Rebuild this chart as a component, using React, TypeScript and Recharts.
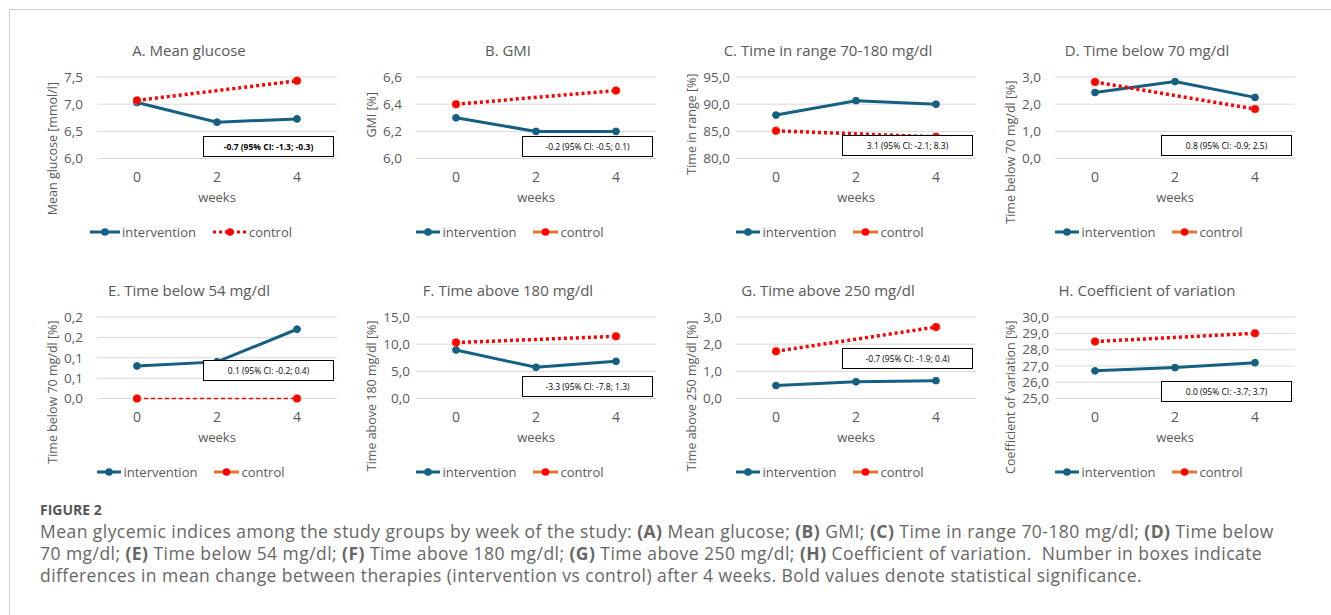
import { LineChart, Line, XAxis, YAxis, CartesianGrid } from 'recharts'

// weeks of the study
const weeks = ['0', '2', '4']

// A. Mean glucose
const glucoseIntervention = [7.03, 6.67, 6.73]
const glucoseControl = [7.07, null, 7.43]
// B. GMI
const gmiIntervention = [6.3, 6.2, 6.2]
const gmiControl = [6.4, null, 6.5]
// C. Time in range
const tirIntervention = [88.0, 90.65, 90.0]
const tirControl = [85.1, null, 84.0]
// D. Time below 70
const tbr70Intervention = [2.43, 2.83, 2.25]
const tbr70Control = [2.82, null, 1.82]
// E. Time below 54
const tbr54Intervention = [0.08, 0.09, 0.17]
const tbr54Control = [0, null, 0]
// F. Time above 180
const tar180Intervention = [8.95, 5.75, 6.85]
const tar180Control = [10.3, null, 11.45]
// G. Time above 250
const tar250Intervention = [0.48, 0.62, 0.66]
const tar250Control = [1.74, null, 2.63]
// H. Coefficient of variation
const cvIntervention = [26.7, 26.9, 27.2]
const cvControl = [28.5, null, 29.0]

const titles = [
  'A. Mean glucose',
  'B. GMI',
  'C. Time in range 70-180 mg/dl',
  'D. Time below 70 mg/dl',
  'E. Time below 54 mg/dl',
  'F. Time above 180 mg/dl',
  'G. Time above 250 mg/dl',
  'H. Coefficient of variation',
]
const yLabels = [
  'Mean glucose [mmol/l]',
  'GMI [%]',
  'Time in range [%]',
  'Time below 70 mg/dl [%]',
  'Time below 70 mg/dl [%]',
  'Time above 180 mg/dl [%]',
  'Time above 250 mg/dl [%]',
  'Coefficient of variation [%]',
]
const yTicks = [
  [6, 6.5, 7, 7.5],
  [6, 6.2, 6.4, 6.6],
  [80, 85, 90, 95],
  [0, 1, 2, 3],
  [0, 0.05, 0.1, 0.15, 0.2],
  [0, 5, 10, 15],
  [0, 1, 2, 3],
  [25, 26, 27, 28, 29, 30],
]
const differences = [
  '-0.7 (95% CI: -1.3; -0.3)',
  '-0.2 (95% CI: -0.5; 0.1)',
  '3.1 (95% CI: -2.1; 8.3)',
  '0.8 (95% CI: -0.9; 2.5)',
  '0.1 (95% CI: -0.2; 0.4)',
  '-3.3 (95% CI: -7.8; 1.3)',
  '-0.7 (95% CI: -1.9; 0.4)',
  '0.0 (95% CI: -3.7; 3.7)',
]
const significant = [true, false, false, false, false, false, false, false]

const series = [
  [glucoseIntervention, glucoseControl],
  [gmiIntervention, gmiControl],
  [tirIntervention, tirControl],
  [tbr70Intervention, tbr70Control],
  [tbr54Intervention, tbr54Control],
  [tar180Intervention, tar180Control],
  [tar250Intervention, tar250Control],
  [cvIntervention, cvControl],
]

// layout (px)
const panelLefts = [33, 352, 672, 991]
const panelTops = [20, 260]
const labelTops = [5, 15, -3.5, 3.5, 3.5, 3.5, 3.5, 3.5]
const boxTops = [59, 59, 58, 58, 43, 59, 31, 64]

const BLUE = '#156082'
const RED = '#FF0000'
const ORANGE = '#E97132'
const GREY = '#595959'
const FONT = '"Open Sans", sans-serif'

const PLOT_LEFT = 64
const PLOT_TOP = 57
const PLOT_W = 240
const PLOT_H = 81.6
const CHART_W = 320
const CHART_H = 200

const fmt = (v: number) => (Math.round(v * 10 + 1e-9) / 10).toFixed(1).replace('.', ',')

const LegendKey = ({ color, dashed, width }: { color: string; dashed?: boolean; width: number }) => (
  <svg width={width} height={10} style={{ display: 'block' }}>
    <line
      x1={0}
      x2={width}
      y1={5}
      y2={5}
      stroke={color}
      strokeWidth={3}
      strokeDasharray={dashed ? '3 3' : undefined}
    />
    <circle cx={width / 2} cy={5} r={3.8} fill={color === BLUE ? BLUE : RED} />
  </svg>
)

const Panel = ({ i }: { i: number }) => {
  const [intervention, control] = series[i]
  const rows = weeks.map((w, k) => ({ week: w, intervention: intervention[k], control: control[k] }))
  const ticks = yTicks[i]
  const longTicks = fmt(ticks[ticks.length - 1]).length >= 4
  const left = panelLefts[i % 4]
  const top = panelTops[Math.floor(i / 4)]
  const thinControl = i === 4
  const first = i === 0

  return (
    <div style={{ position: 'absolute', left, top, width: CHART_W, height: 230, fontFamily: FONT }}>
      <div
        style={{
          position: 'absolute',
          left: 0,
          width: 2 * (PLOT_LEFT + PLOT_W / 2 - 28),
          top: 20,
          textAlign: 'center',
          fontSize: 15,
          color: GREY,
          whiteSpace: 'nowrap',
        }}
      >
        {titles[i]}
      </div>
      <LineChart
        width={CHART_W}
        height={CHART_H}
        data={rows}
        margin={{ top: PLOT_TOP, left: 0, right: CHART_W - PLOT_LEFT - PLOT_W, bottom: CHART_H - PLOT_TOP - PLOT_H - 30 }}
      >
        <CartesianGrid vertical={false} stroke="#D9D9D9" />
        <XAxis
          dataKey="week"
          axisLine={false}
          tickLine={false}
          tickSize={0}
          tickMargin={13}
          height={30}
          padding={{ left: 40, right: 40 }}
          tick={{ fill: GREY, fontSize: 14, fontFamily: FONT }}
        />
        <YAxis
          width={PLOT_LEFT}
          domain={[ticks[0], ticks[ticks.length - 1]]}
          ticks={ticks}
          interval={0}
          tickFormatter={fmt}
          axisLine={false}
          tickLine={false}
          tickSize={0}
          tickMargin={longTicks ? 6 : 14}
          tick={{ fill: GREY, fontSize: 13.5, fontFamily: FONT }}
        />
        <Line
          dataKey="intervention"
          stroke={BLUE}
          strokeWidth={3}
          dot={{ r: 3.4, fill: BLUE, stroke: BLUE, strokeWidth: 1 }}
          isAnimationActive={false}
        />
        <Line
          dataKey="control"
          stroke={RED}
          strokeWidth={thinControl ? 1.5 : 3.5}
          strokeDasharray={thinControl ? '4 3' : '3 3'}
          connectNulls
          dot={{ r: 4, fill: RED, stroke: ORANGE, strokeWidth: 1 }}
          isAnimationActive={false}
        />
      </LineChart>
      <svg style={{ position: 'absolute', left: 0, top: 0, overflow: 'visible' }} width={CHART_W} height={230}>
        <text
          x={PLOT_LEFT - 45}
          y={PLOT_TOP + labelTops[i]}
          transform={`rotate(-90 ${PLOT_LEFT - 45} ${PLOT_TOP + labelTops[i]})`}
          textAnchor="end"
          dominantBaseline="central"
          fontSize={12.5}
          fill={GREY}
          fontFamily={FONT}
        >
          {yLabels[i]}
        </text>
        <text
          x={PLOT_LEFT + PLOT_W / 2}
          y={PLOT_TOP + 120}
          textAnchor="middle"
          dominantBaseline="central"
          fontSize={13}
          fill={GREY}
          fontFamily={FONT}
        >
          weeks
        </text>
      </svg>
      <div
        style={{
          position: 'absolute',
          left: PLOT_LEFT + 106,
          top: PLOT_TOP + boxTops[i],
          width: 131,
          height: 21,
          boxSizing: 'border-box',
          border: '1px solid #000',
          background: '#fff',
          fontSize: 8.5,
          fontWeight: significant[i] ? 700 : 400,
          color: '#000',
          display: 'flex',
          alignItems: 'center',
          justifyContent: 'center',
          whiteSpace: 'nowrap',
        }}
      >
        {differences[i]}
      </div>
      <div
        style={{
          position: 'absolute',
          left: 0,
          width: 2 * 158,
          top: 203,
          height: 18,
          display: 'flex',
          justifyContent: 'center',
          alignItems: 'center',
          fontSize: 13,
          color: GREY,
          gap: 2,
        }}
      >
        <LegendKey color={BLUE} width={first ? 30 : 24} />
        <span>intervention</span>
        <span style={{ width: 13 }} />
        <LegendKey color={first ? RED : ORANGE} dashed={first} width={first ? 34 : 25} />
        <span>control</span>
      </div>
    </div>
  )
}

export default function App() {
  return (
    <div
      style={{
        position: 'absolute',
        left: 0,
        top: 0,
        width: 1331,
        height: 615,
        background: '#fff',
        overflow: 'hidden',
      }}
    >
      <div
        style={{
          position: 'absolute',
          left: 9,
          top: 9,
          width: 1340,
          height: 620,
          borderTop: '1px solid #D0D0D0',
          borderLeft: '1px solid #D0D0D0',
        }}
      />
      {titles.map((_, i) => (
        <Panel key={i} i={i} />
      ))}
      <div
        style={{
          position: 'absolute',
          left: 40,
          top: 500,
          fontFamily: FONT,
          fontSize: 14,
          fontWeight: 700,
          color: '#555',
          lineHeight: '20px',
        }}
      >
        FIGURE 2
      </div>
      <div
        style={{
          position: 'absolute',
          left: 40,
          top: 520,
          fontFamily: FONT,
          fontSize: 17.5,
          letterSpacing: 0.45,
          color: '#666',
          lineHeight: '22px',
          whiteSpace: 'nowrap',
        }}
      >
        Mean glycemic indices among the study groups by week of the study: <b>(A)</b> Mean glucose; <b>(B)</b> GMI;{' '}
        <b>(C)</b> Time in range 70-180 mg/dl; <b>(D)</b> Time below
        <br />
        70 mg/dl; <b>(E)</b> Time below 54 mg/dl; <b>(F)</b> Time above 180 mg/dl; <b>(G)</b> Time above 250 mg/dl;{' '}
        <b>(H)</b> Coefficient of variation.&nbsp; Number in boxes indicate
        <br />
        differences in mean change between therapies (intervention vs control) after 4 weeks. Bold values denote
        statistical significance.
      </div>
    </div>
  )
}
